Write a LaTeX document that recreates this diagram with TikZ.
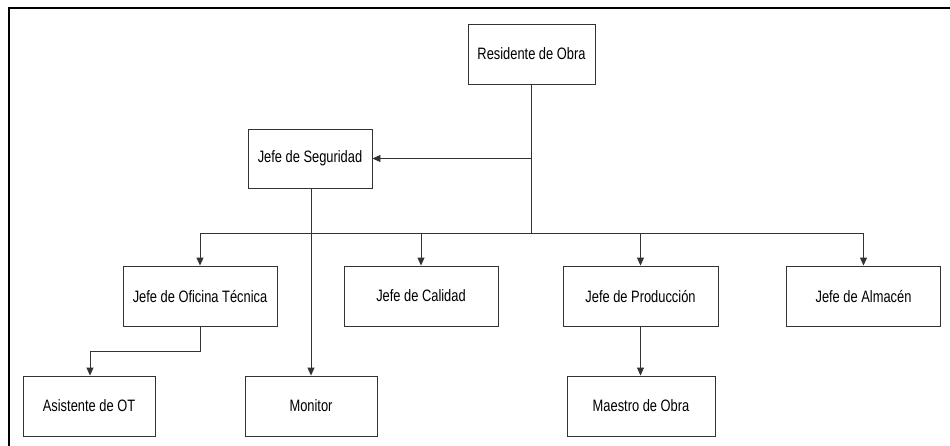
\documentclass[tikz,border=0pt]{standalone}
\usepackage{fontspec}
\setmainfont[FakeStretch=0.78]{Liberation Sans}
\usetikzlibrary{arrows.meta}
\tikzset{
  orgbox/.style={draw=black!80, line width=0.9pt, fill=white, minimum height=60pt, inner sep=0pt, font=\fontsize{16.5}{18}\selectfont},
  conn/.style={draw=black!80, line width=0.9pt},
  arr/.style={conn, -{Triangle[length=8pt,width=7pt]}},
  frameline/.style={draw=black, line width=2pt}
}
\begin{document}
\begin{tikzpicture}[x=1pt,y=-1pt]
\useasboundingbox (0,0) rectangle (950,445);
\fill[white] (0,0) rectangle (950,445);
\coordinate (fbl) at (9,446);
\coordinate (ftl) at (9,8);
\coordinate (ftr) at (951,8);
\draw[frameline] (fbl) -- (ftl) -- (ftr);

\node[orgbox, minimum width=127pt] (res) at (531.5,54) {Residente de Obra};
\node[orgbox, minimum width=124pt, minimum height=59pt] (seg) at (310,158.5) {Jefe de Seguridad};
\node[orgbox, minimum width=154pt] (oft) at (200,296) {Jefe de Oficina Técnica};
\node[orgbox, minimum width=154pt] (cal) at (421,296) {Jefe de Calidad};
\node[orgbox, minimum width=155pt] (pro) at (640.5,296) {Jefe de Producción};
\node[orgbox, minimum width=154pt] (alm) at (863.5,296) {Jefe de Almacén};
\node[orgbox, minimum width=132pt] (ast) at (89,406) {Asistente de OT};
\node[orgbox, minimum width=132pt] (mon) at (311,406) {Monitor};
\node[orgbox, minimum width=148pt] (mae) at (641,406) {Maestro de Obra};

\coordinate (bus) at (531.5,233.5);
\coordinate (otbend) at (200,351);
\coordinate (astbend) at (90,351);

\draw[conn] (res.south) -- (bus);
\draw[arr] (res.south |- seg.east) -- (seg.east);
\draw[conn] (oft.north |- bus) -- (alm.north |- bus);
\draw[arr] (oft.north |- bus) -- (oft.north);
\draw[arr] (cal.north |- bus) -- (cal.north);
\draw[arr] (pro.north |- bus) -- (pro.north);
\draw[arr] (alm.north |- bus) -- (alm.north);
\draw[arr] (seg.south -| mon.north) -- (mon.north);
\draw[arr] (oft.south) -- (otbend) -- (astbend) -- (astbend |- ast.north);
\draw[arr] (pro.south) -- (pro.south |- mae.north);
\end{tikzpicture}
\end{document}
